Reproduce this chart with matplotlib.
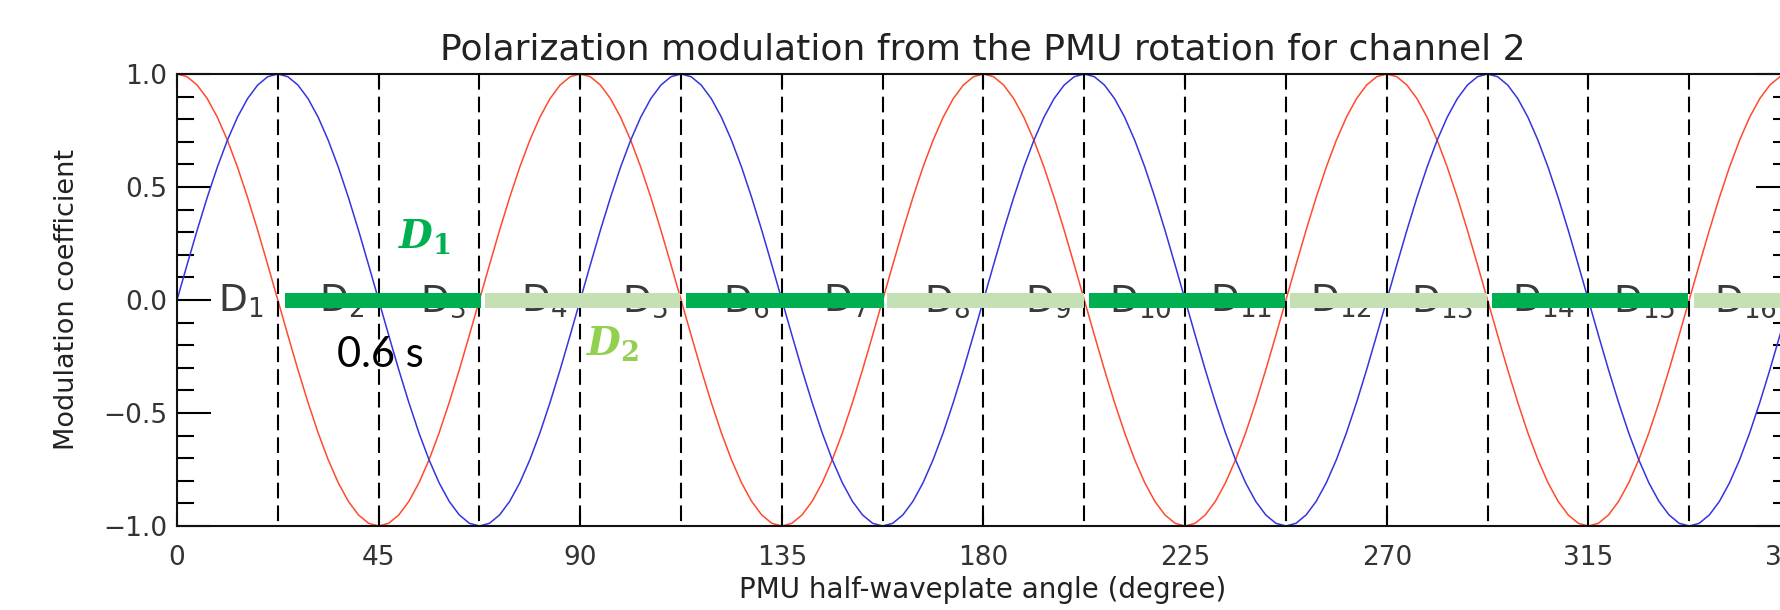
import matplotlib
matplotlib.use("Agg")
import numpy as np
import matplotlib.pyplot as plt
from matplotlib.ticker import MultipleLocator

# PMU half-waveplate angle samples (degree) and read-off modulation values
angles = np.linspace(0, 360, 161)
red_vals = [
    1.0, 0.988, 0.951, 0.891, 0.809, 0.707, 0.588, 0.454, 0.309, 0.156,
    0.0, -0.156, -0.309, -0.454, -0.588, -0.707, -0.809, -0.891, -0.951, -0.988,
    -1.0, -0.988, -0.951, -0.891, -0.809, -0.707, -0.588, -0.454, -0.309, -0.156,
    0.0, 0.156, 0.309, 0.454, 0.588, 0.707, 0.809, 0.891, 0.951, 0.988,
    1.0, 0.988, 0.951, 0.891, 0.809, 0.707, 0.588, 0.454, 0.309, 0.156,
    0.0, -0.156, -0.309, -0.454, -0.588, -0.707, -0.809, -0.891, -0.951, -0.988,
    -1.0, -0.988, -0.951, -0.891, -0.809, -0.707, -0.588, -0.454, -0.309, -0.156,
    0.0, 0.156, 0.309, 0.454, 0.588, 0.707, 0.809, 0.891, 0.951, 0.988,
    1.0, 0.988, 0.951, 0.891, 0.809, 0.707, 0.588, 0.454, 0.309, 0.156,
    0.0, -0.156, -0.309, -0.454, -0.588, -0.707, -0.809, -0.891, -0.951, -0.988,
    -1.0, -0.988, -0.951, -0.891, -0.809, -0.707, -0.588, -0.454, -0.309, -0.156,
    0.0, 0.156, 0.309, 0.454, 0.588, 0.707, 0.809, 0.891, 0.951, 0.988,
    1.0, 0.988, 0.951, 0.891, 0.809, 0.707, 0.588, 0.454, 0.309, 0.156,
    0.0, -0.156, -0.309, -0.454, -0.588, -0.707, -0.809, -0.891, -0.951, -0.988,
    -1.0, -0.988, -0.951, -0.891, -0.809, -0.707, -0.588, -0.454, -0.309, -0.156,
    0.0, 0.156, 0.309, 0.454, 0.588, 0.707, 0.809, 0.891, 0.951, 0.988,
    1.0,
]
blue_vals = [
    0.0, 0.156, 0.309, 0.454, 0.588, 0.707, 0.809, 0.891, 0.951, 0.988,
    1.0, 0.988, 0.951, 0.891, 0.809, 0.707, 0.588, 0.454, 0.309, 0.156,
    0.0, -0.156, -0.309, -0.454, -0.588, -0.707, -0.809, -0.891, -0.951, -0.988,
    -1.0, -0.988, -0.951, -0.891, -0.809, -0.707, -0.588, -0.454, -0.309, -0.156,
    0.0, 0.156, 0.309, 0.454, 0.588, 0.707, 0.809, 0.891, 0.951, 0.988,
    1.0, 0.988, 0.951, 0.891, 0.809, 0.707, 0.588, 0.454, 0.309, 0.156,
    0.0, -0.156, -0.309, -0.454, -0.588, -0.707, -0.809, -0.891, -0.951, -0.988,
    -1.0, -0.988, -0.951, -0.891, -0.809, -0.707, -0.588, -0.454, -0.309, -0.156,
    0.0, 0.156, 0.309, 0.454, 0.588, 0.707, 0.809, 0.891, 0.951, 0.988,
    1.0, 0.988, 0.951, 0.891, 0.809, 0.707, 0.588, 0.454, 0.309, 0.156,
    0.0, -0.156, -0.309, -0.454, -0.588, -0.707, -0.809, -0.891, -0.951, -0.988,
    -1.0, -0.988, -0.951, -0.891, -0.809, -0.707, -0.588, -0.454, -0.309, -0.156,
    0.0, 0.156, 0.309, 0.454, 0.588, 0.707, 0.809, 0.891, 0.951, 0.988,
    1.0, 0.988, 0.951, 0.891, 0.809, 0.707, 0.588, 0.454, 0.309, 0.156,
    0.0, -0.156, -0.309, -0.454, -0.588, -0.707, -0.809, -0.891, -0.951, -0.988,
    -1.0, -0.988, -0.951, -0.891, -0.809, -0.707, -0.588, -0.454, -0.309, -0.156,
    0.0,
]

# segment boundaries (dashed lines) and D labels
boundaries = [22.5, 45, 67.5, 90, 112.5, 135, 157.5, 180, 202.5, 225,
              247.5, 270, 292.5, 315, 337.5]
seg_centers = [11.25, 33.75, 56.25, 78.75, 101.25, 123.75, 146.25, 168.75,
               191.25, 213.75, 236.25, 258.75, 281.25, 303.75, 326.25, 348.75]
seg_labels = list(range(1, 17))

# overlay bars (start, end) in degree
dark_starts = [24.2, 113.5, 203.5, 293.5]
dark_ends = [67.8, 157.7, 247.4, 337.3]
light_starts = [68.7, 158.5, 248.5, 338.5]
light_ends = [112.3, 202.5, 292.3, 372.0]

xticks = [0, 45, 90, 135, 180, 225, 270, 315, 360]

W, H = 1780, 610
fig = plt.figure(figsize=(W / 100, H / 100), dpi=100)
ax = fig.add_axes([177 / W, (H - 526) / H, (1790 - 177) / W, (526 - 74) / H])

ax.plot(angles, red_vals, color="#ff4a2e", lw=1.1, zorder=2)
ax.plot(angles, blue_vals, color="#3434e0", lw=1.1, zorder=2)

ax.vlines(boundaries, 1, -1, colors="black", lw=1.5, linestyles=(0, (7.5, 3.4)), zorder=3)

for c, n in zip(seg_centers, seg_labels):
    off = 2.0 if n < 10 else 5.8
    ax.text(c - off, -0.053, "D$_{%d}$" % n, fontsize=27, color="#3a3a3a",
            ha="left", va="baseline", zorder=4)

ax.broken_barh([(s, e - s) for s, e in zip(dark_starts, dark_ends)], (-0.035, 0.066),
               facecolors="#00b050", zorder=5)
ax.broken_barh([(s, e - s) for s, e in zip(light_starts, light_ends)], (-0.035, 0.066),
               facecolors="#c5e0b4", zorder=5)

plt.rcParams["mathtext.fontset"] = "dejavuserif"
ax.text(49.3, 0.23, r"$\boldsymbol{D}_{\mathbf{1}}$", fontsize=28, color="#00b050",
        ha="left", va="baseline", zorder=6)
ax.text(91.2, -0.243, r"$\boldsymbol{D}_{\mathbf{2}}$", fontsize=28, color="#92d050",
        ha="left", va="baseline", zorder=6)
ax.text(45.5, -0.296, "0.6 s", fontsize=30, family="Lato", color="black",
        ha="center", va="baseline", zorder=6)

ax.set_xlim(0, 360)
ax.set_ylim(-1, 1)
ax.set_xticks(xticks)
ax.set_yticks([-1.0, -0.5, 0.0, 0.5, 1.0])
ax.set_yticklabels(["\u22121.0", "\u22120.5", "0.0", "0.5", "1.0"])
ax.yaxis.set_minor_locator(MultipleLocator(0.1))
ax.tick_params(axis="y", which="major", direction="in", length=24.5, width=1.5,
               left=True, right=True, labelsize=19, labelcolor="#333333", pad=7)
ax.tick_params(axis="y", which="minor", direction="in", length=12, width=1.5,
               left=True, right=True)
ax.tick_params(axis="x", which="major", direction="in", length=8.5, width=1.5,
               bottom=True, top=True, labelsize=19, labelcolor="#333333", pad=14)
for sp in ax.spines.values():
    sp.set_linewidth(1.5)
    sp.set_color("#111111")

fig.text(983 / W, 1 - 60 / H, "Polarization modulation from the PMU rotation for channel 2",
         fontsize=26, color="#222222", ha="center", va="baseline")
fig.text(983 / W, 1 - 590 / H, "PMU half-waveplate angle (degree)",
         fontsize=20, color="#222222", ha="center", va="center")
fig.text(67 / W, 1 - 300 / H, "Modulation coefficient", rotation=90,
         fontsize=19.5, color="#222222", ha="center", va="center")

fig.savefig("out.png", dpi=100)
